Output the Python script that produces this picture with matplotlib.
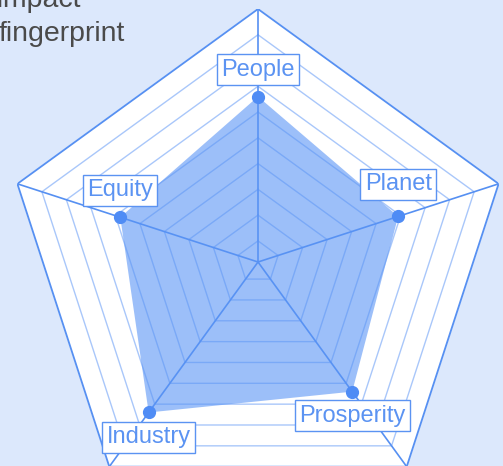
import numpy as np
import matplotlib.pyplot as plt

plt.rcParams['font.family'] = ['Liberation Sans', 'DejaVu Sans']

# data
labels = ['People', 'Planet', 'Prosperity', 'Industry', 'Equity']
values = [66, 59, 64, 74, 58]
ring_levels = [10, 20, 30, 40, 50, 60, 70, 80, 90]
r_min, r_max = 1.8, 100

# label offset from point, in pixels (layout only)
label_dy = [27, 32, -24, -25, 27]

bg = '#dce8fc'
line_blue = '#5690f2'
grid_blue = '#a9c7fa'
fill_blue = '#5b95f5'

W, H = 503, 466
cx, cy, R = 258, 262, 253

fig = plt.figure(figsize=(W / 100, H / 100), dpi=100, facecolor=bg)
ax = fig.add_axes([(cx - R) / W, (H - cy - R) / H, 2 * R / W, 2 * R / H],
                  projection='polar')
ax.set_theta_offset(np.pi / 2)
ax.set_theta_direction(-1)
ax.set_ylim(r_min, r_max)
ax.axis('off')

theta = np.linspace(0, 2 * np.pi, len(labels), endpoint=False)
theta_c = np.append(theta, theta[0])

# outer pentagon, white
ax.fill(theta_c, [r_max] * len(theta_c), color='white', zorder=0)
for lv in ring_levels:
    ax.plot(theta_c, [lv] * len(theta_c), color=grid_blue, lw=1, zorder=1)
ax.plot(theta_c, [r_max] * len(theta_c), color=line_blue, lw=1.3, zorder=2)
for t in theta:
    ax.plot([t, t], [r_min, r_max], color=line_blue, lw=1.2, zorder=2)

vals_c = values + values[:1]
ax.fill(theta_c, vals_c, color=fill_blue, alpha=0.6, lw=0, zorder=3)
ax.plot(theta, values, 'o', color='#4f8cf5', ms=8.5, zorder=4)

for t, v, lab, dy in zip(theta, values, labels, label_dy):
    ax.annotate(lab, xy=(t, v), xytext=(0, dy), textcoords='offset pixels',
                ha='center', va='center', fontsize=17, color='#5b93f2',
                annotation_clip=False, zorder=6,
                bbox=dict(boxstyle='square,pad=0.18', fc='white',
                          ec='#5b93f2', lw=1))

fig.text(-5 / W, (H - 7) / H, 'Impact', fontsize=20.5, color='#4a4a4a',
         ha='left', va='baseline')
fig.text(-1 / W, (H - 41) / H, 'fingerprint', fontsize=20.5, color='#4a4a4a',
         ha='left', va='baseline')

fig.savefig('out.png', dpi=100, facecolor=bg)
